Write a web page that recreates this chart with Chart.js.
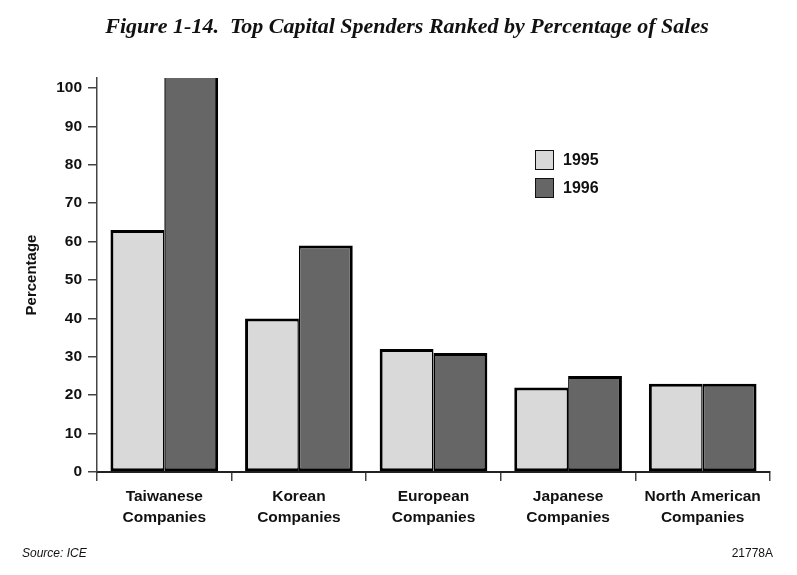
<!DOCTYPE html>
<html>
<head>
<meta charset="utf-8">
<script src="https://cdn.jsdelivr.net/npm/chart.js@4.4.1/dist/chart.umd.min.js"></script>
<style>
  body { margin: 0; background: #fff; }
  #wrap { position: relative; width: 797px; height: 575px; }
  #title { position: absolute; left: 0; width: 814px; top: 13px; text-align: center;
    font: italic bold 22px "Liberation Serif", "DejaVu Serif", serif; color: #111; }
  .note { position: absolute; top: 546px; font: 12px "Liberation Sans", Arial, sans-serif; color: #111; }
  #source { left: 22px; font-style: italic; }
  #code { right: 24px; }
  #legend { position: absolute; left: 535px; top: 146px; font: bold 16px "Liberation Sans", Arial, sans-serif; color: #111; }
  .item { display: flex; align-items: center; height: 28px; }
  .box { width: 17px; height: 18px; border: 1.5px solid #111; margin-right: 9px; }
</style>
</head>
<body>
<div id="wrap">
  <canvas id="chart" width="797" height="575"></canvas>
  <div id="title">Figure 1-14.&nbsp; Top Capital Spenders Ranked by Percentage of Sales</div>
  <div id="legend"></div>
  <div class="note" id="source">Source: ICE</div>
  <div class="note" id="code">21778A</div>
</div>
<script>
const categories = [
  ["Taiwanese", "Companies"],
  ["Korean", "Companies"],
  ["European", "Companies"],
  ["Japanese", "Companies"],
  ["North American", "Companies"],
];
const seriesNames = ["1995", "1996"];
const values1995 = [63, 40, 32, 22, 23];
const values1996 = [110, 59, 31, 25, 23];
const yTicks = [0, 10, 20, 30, 40, 50, 60, 70, 80, 90, 100];
const seriesColors = ["#d9d9d9", "#666666"];

const legend = document.getElementById("legend");
seriesNames.forEach((name, i) => {
  const item = document.createElement("div");
  item.className = "item";
  item.innerHTML = '<span class="box" style="background:' + seriesColors[i] + '"></span>' + name;
  legend.appendChild(item);
});

const tickFont = { family: "'Liberation Sans', Arial, sans-serif", size: 15.5, weight: "bold", lineHeight: 1.3 };

new Chart(document.getElementById("chart"), {
  type: "bar",
  data: {
    labels: categories,
    datasets: [
      {
        label: seriesNames[0],
        data: values1995,
        backgroundColor: seriesColors[0],
        borderColor: "#000",
        borderWidth: { top: 3, left: 3, bottom: 3, right: 1.5 },
        borderSkipped: false,
      },
      {
        label: seriesNames[1],
        data: values1996,
        backgroundColor: seriesColors[1],
        borderColor: "#000",
        borderWidth: { top: 3, left: 1.5, bottom: 3, right: 3 },
        borderSkipped: false,
      },
    ],
  },
  options: {
    responsive: false,
    animation: false,
    layout: { padding: { left: 0, top: 78, right: 27, bottom: 43 } },
    categoryPercentage: 0.8,
    barPercentage: 1.0,
    plugins: {
      legend: { display: false },
      tooltip: { enabled: false },
    },
    scales: {
      x: {
        grid: { offset: true, drawOnChartArea: false, tickLength: 9, color: "#444", lineWidth: 1.5 },
        border: { color: "#222", width: 2 },
        ticks: { font: tickFont, color: "#111", padding: 6, maxRotation: 0 },
        afterFit: (scale) => { scale.height = 60; },
      },
      y: {
        min: 0,
        max: 102.6,
        grid: { drawOnChartArea: false, tickLength: 9, color: "#444", lineWidth: 1.5 },
        border: { color: "#444", width: 1.5 },
        ticks: { font: tickFont, color: "#111", padding: 6 },
        afterBuildTicks: (scale) => { scale.ticks = yTicks.map((v) => ({ value: v })); },
        title: { display: true, text: "Percentage", font: { ...tickFont, size: 15 }, color: "#111", padding: { top: 22, bottom: 10 } },
        afterFit: (scale) => { scale.width = 97; },
      },
    },
  },
});
</script>
</body>
</html>
